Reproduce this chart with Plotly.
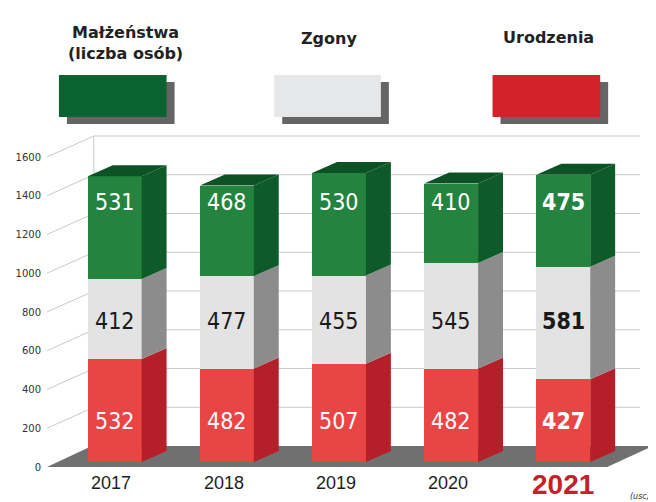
import plotly.graph_objects as go

# ---------------- data ----------------
years = ["2017", "2018", "2019", "2020", "2021"]
urodzenia = [532, 482, 507, 482, 427]      # births (red, bottom)
zgony = [412, 477, 455, 545, 581]          # deaths (grey, middle)
malzenstwa = [531, 468, 530, 410, 475]     # marriages (green, top)
y_ticks = [0, 200, 400, 600, 800, 1000, 1200, 1400, 1600]
series_names = ["Małżeństwa<br>(liczba osób)", "Zgony", "Urodzenia"]

# ---------------- geometry helpers (reference pixel -> data) ----------------
W, H = 656, 502
# the page body has an 8px margin, so the figure is placed at (8, 8)
ML, MR, MT, MB = 32, 8, 122, 35
PLOT_L, PLOT_T, PLOT_W, PLOT_H = 40, 130, 616, 345   # plot area in page pixels
PX_PER_CAT = 112.5
X0_PX = 113
PX_PER_UNIT = 0.19375
Y0_PX = 467


def X(px):
    return (px - X0_PX) / PX_PER_CAT


def Y(py):
    return (Y0_PX - py) / PX_PER_UNIT


def PX(px):
    return (px - PLOT_L) / PLOT_W


def PY(py):
    return (PLOT_T + PLOT_H - py) / PLOT_H


DY_W = 21 / PX_PER_UNIT          # wall depth (units)
BASE = 5 / PX_PER_UNIT           # bars stand slightly behind the front edge
DX_B = 25 / PX_PER_CAT           # bar depth, x
DY_B = 11 / PX_PER_UNIT          # bar depth, y
BAR_W = 0.48

C_RED, C_RED_S = "#ea4545", "#b51f2a"
C_GREY, C_GREY_S = "#e3e3e3", "#8c8c8c"
C_GREEN, C_GREEN_S, C_GREEN_T = "#24843f", "#0e5a28", "#0c5225"

xs = list(range(len(years)))
base_red = [BASE] * len(years)
base_grey = [BASE + r for r in urodzenia]
base_green = [BASE + r + g for r, g in zip(urodzenia, zgony)]

fig = go.Figure()
for vals, bases, col, name in [
    (urodzenia, base_red, C_RED, "Urodzenia"),
    (zgony, base_grey, C_GREY, "Zgony"),
    (malzenstwa, base_green, C_GREEN, "Małżeństwa"),
]:
    fig.add_trace(go.Bar(x=xs, y=vals, base=bases, width=BAR_W, name=name,
                         marker=dict(color=col, line=dict(width=0)),
                         hoverinfo="skip", showlegend=False))

shapes = []
# floor
shapes.append(dict(type="path", layer="below", xref="x", yref="y",
                   path=f"M {X(45)},0 L {X(90)},{DY_W} L {X(653)},{DY_W} L {X(607)},0 Z",
                   fillcolor="#707070", line=dict(width=0)))
# back wall gridlines
for v in y_ticks:
    if v == 0:
        continue
    shapes.append(dict(type="line", layer="below", xref="x", yref="y",
                       x0=X(92), x1=X(640), y0=v + DY_W, y1=v + DY_W,
                       line=dict(color="#c9c9c9", width=1)))
    shapes.append(dict(type="line", layer="below", xref="x", yref="y",
                       x0=X(45), x1=X(92), y0=v, y1=v + DY_W,
                       line=dict(color="#c9c9c9", width=1)))
shapes.append(dict(type="line", layer="below", xref="x", yref="y",
                   x0=X(92), x1=X(92), y0=DY_W, y1=y_ticks[-1] + DY_W,
                   line=dict(color="#c9c9c9", width=1)))

# 3D sides and tops of the bars, derived from the data
for i in xs:
    xr = i + BAR_W / 2
    xl = i - BAR_W / 2
    segs = [(base_red[i], base_red[i] + urodzenia[i], C_RED_S),
            (base_grey[i], base_grey[i] + zgony[i], C_GREY_S),
            (base_green[i], base_green[i] + malzenstwa[i], C_GREEN_S)]
    for yb, yt, col in segs:
        shapes.append(dict(type="path", layer="above", xref="x", yref="y",
                           path=f"M {xr},{yb} L {xr + DX_B},{yb + DY_B} L {xr + DX_B},{yt + DY_B} L {xr},{yt} Z",
                           fillcolor=col, line=dict(width=0)))
    top = segs[-1][1]
    shapes.append(dict(type="path", layer="above", xref="x", yref="y",
                       path=f"M {xl},{top} L {xl + DX_B},{top + DY_B} L {xr + DX_B},{top + DY_B} L {xr},{top} Z",
                       fillcolor=C_GREEN_T, line=dict(width=0)))

# legend swatches with shadows
sw = [(57, 165, "#0b6331"), (273, 380, "#e6e7e9"), (492, 600, "#d2232a")]
for x0, x1, col in sw:
    shapes.append(dict(type="rect", xref="paper", yref="paper",
                       x0=PX(x0 + 8), x1=PX(x1 + 8), y0=PY(124), y1=PY(82),
                       fillcolor="#4a4a4a", line=dict(width=0), opacity=0.85))
    shapes.append(dict(type="rect", xref="paper", yref="paper",
                       x0=PX(x0), x1=PX(x1), y0=PY(117), y1=PY(75),
                       fillcolor=col, line=dict(width=0)))

annotations = []
NUM_FONT = "Liberation Sans Narrow, DejaVu Sans Condensed, Arial Narrow, sans-serif"
label_rows = [(malzenstwa, 1370, "white"), (zgony, 753, "#1a1a1a"), (urodzenia, 237, "white")]
for vals, yv, col in label_rows:
    for i, v in zip(xs, vals):
        txt = f"<b>{v}</b>" if i == len(xs) - 1 else str(v)
        annotations.append(dict(x=i, y=yv, xref="x", yref="y", text=txt, showarrow=False,
                                xanchor="center", yanchor="middle",
                                font=dict(family=NUM_FONT, size=23, color=col)))

for i, yr in zip(xs, years):
    if i == len(xs) - 1:
        annotations.append(dict(x=i, y=PY(484), xref="x", yref="paper", text=f"<b>{yr}</b>",
                                showarrow=False, xanchor="center", yanchor="middle",
                                font=dict(family="Liberation Sans, Arial, sans-serif", size=28, color="#c8202a")))
    else:
        annotations.append(dict(x=i - 0.03, y=PY(483), xref="x", yref="paper", text=yr,
                                showarrow=False, xanchor="center", yanchor="middle",
                                font=dict(family="Liberation Sans, Arial, sans-serif", size=18, color="#1e1e1e")))

leg_x = [124, 328, 548]
leg_y = [43, 38, 37]
for name, lx, ly in zip(series_names, leg_x, leg_y):
    annotations.append(dict(x=PX(lx), y=PY(ly), xref="paper", yref="paper", text=f"<b>{name}</b>",
                            showarrow=False, xanchor="center", yanchor="middle", align="center",
                            font=dict(family="DejaVu Sans, sans-serif", size=16, color="#222222")))

annotations.append(dict(x=PX(640), y=PY(496), xref="paper", yref="paper", text="<i>(usc)</i>",
                        showarrow=False, xanchor="center", yanchor="middle",
                        font=dict(family="DejaVu Sans, sans-serif", size=8, color="#333333")))

fig.update_layout(
    width=W, height=H,
    margin=dict(l=ML, r=MR, t=MT, b=MB, pad=0),
    paper_bgcolor="white", plot_bgcolor="white",
    barmode="overlay", bargap=0,
    shapes=shapes, annotations=annotations,
    xaxis=dict(range=[X(PLOT_L), X(PLOT_L + PLOT_W)], showticklabels=False, showgrid=False,
               zeroline=False, showline=False, fixedrange=True),
    yaxis=dict(range=[Y(PLOT_T + PLOT_H), Y(PLOT_T)], tickvals=y_ticks, ticktext=[str(t) for t in y_ticks],
               showgrid=False, zeroline=False, showline=False, ticks="",
               tickfont=dict(family="DejaVu Sans, sans-serif", size=10, color="#333333"),
               fixedrange=True),
)

fig.write_html("out.html")
